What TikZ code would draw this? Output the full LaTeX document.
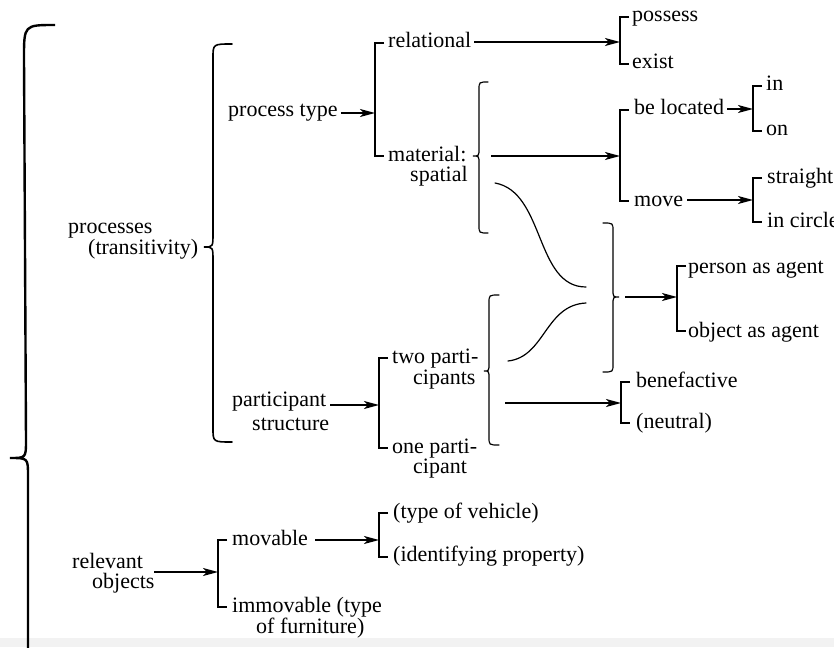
\documentclass[tikz,border=0pt]{standalone}
\usepackage{fontspec}
\setmainfont{Liberation Serif}
\usetikzlibrary{arrows.meta}
\newcommand\brkt[3]{\draw[brk] ({#1+9},#2) -- (#1,#2) -- (#1,#3) -- ({#1+9},#3);}
\newcommand\leftbr[7]{\draw[brc] (#1,#4) .. controls (#2,#4) .. (#2,{#4+#7}) -- (#2,{#5-#7}) .. controls (#2,#5) .. (#3,#5) .. controls (#2,#5) .. (#2,{#5+#7}) -- (#2,{#6-#7}) .. controls (#2,#6) .. (#1,#6);}
\begin{document}
\begin{tikzpicture}[x=1pt,y=-1pt,
  txt/.style={inner sep=0pt, anchor=base west, font=\fontsize{22}{22}\selectfont},
  arr/.style={line width=1.2pt, -{Stealth[length=15pt,width=8pt,inset=4pt]}},
  brk/.style={line width=1.2pt},
  brc/.style={line width=1.2pt, line cap=round}]
\useasboundingbox (0,0) rectangle (834,647);
\fill[black!5] (0,638) rectangle (834,647);

% outer brace
\draw[line width=2.4pt] (55,25) .. controls (24,25) .. (24,58) -- (26,440) .. controls (26,458) .. (10,458) .. controls (28,458) .. (28,476) -- (28,660);

% text nodes
\node[txt] (proc1) at (68,233) {processes};
\node[txt] (proc2) at (88,254) {(transitivity)};
\node[txt] (ptype) at (228,117) {process type};
\node[txt] (rel) at (388,48) {relational};
\node[txt] (poss) at (632,22) {possess};
\node[txt] (exist) at (632,69) {exist};
\node[txt] (mat1) at (388,161) {material:};
\node[txt] (mat2) at (410,181) {spatial};
\node[txt] (beloc) at (634,115) {be located};
\node[txt] (in) at (766,91) {in};
\node[txt] (on) at (766,136) {on};
\node[txt] (move) at (634,206) {move};
\node[txt] (str) at (767,183) {straight};
\node[txt] (circ) at (767,227) {in circle};
\node[txt] (pers) at (688,273) {person as agent};
\node[txt] (obj) at (688,337) {object as agent};
\node[txt] (part1) at (232,406) {participant};
\node[txt] (part2) at (252,430) {structure};
\node[txt] (two1) at (392,363) {two parti-};
\node[txt] (two2) at (413,384) {cipants};
\node[txt] (one1) at (392,453) {one parti-};
\node[txt] (one2) at (413,473) {cipant};
\node[txt] (bene) at (636,387) {benefactive};
\node[txt] (neut) at (636,428) {(neutral)};
\node[txt] (relv1) at (72,568) {relevant};
\node[txt] (relv2) at (92,588) {objects};
\node[txt] (mov) at (232,545) {movable};
\node[txt] (veh) at (393,518) {(type of vehicle)};
\node[txt] (ident) at (393,561) {(identifying property)};
\node[txt] (imm1) at (232,612) {immovable (type};
\node[txt] (imm2) at (256,633) {of furniture)};

% braces
\begin{scope}[brc/.append style={line width=1.6pt}]
\leftbr{232}{213}{204}{44}{247}{442}{14}
\end{scope}
\leftbr{488}{479}{473}{82}{156}{233}{8}
\leftbr{499}{489}{484}{295}{371}{445}{8}
\leftbr{603}{613}{619}{223}{297}{372}{8}

% brackets
\brkt{375}{43}{156}
\brkt{620}{17}{64}
\brkt{620}{110}{201}
\brkt{753}{86}{131}
\brkt{753}{178}{222}
\brkt{677}{266}{331}
\brkt{379}{358}{448}
\brkt{621}{382}{423}
\brkt{218}{540}{607}
\brkt{379}{513}{557}

% coordinates
\coordinate (a1) at (375,113);
\coordinate (a2) at (620,42);
\coordinate (mtip) at (473,156);
\coordinate (a3) at (620,156);
\coordinate (a4) at (753,109);
\coordinate (a5) at (753,200);
\coordinate (rtip) at (619,297);
\coordinate (a6) at (677,297);
\coordinate (ptip) at (485,371);
\coordinate (a7) at (621,403);
\coordinate (a8) at (379,405);
\coordinate (a9) at (218,572);
\coordinate (a10) at (379,540);

% arrows
\draw[arr] ([xshift=3pt]ptype.east |- a1) -- (a1);
\draw[arr] ([xshift=3pt]rel.east |- a2) -- (a2);
\draw[arr] ([xshift=18pt]mtip) -- (a3);
\draw[arr] ([xshift=3pt]beloc.east |- a4) -- (a4);
\draw[arr] ([xshift=4pt]move.east |- a5) -- (a5);
\draw[arr] ([xshift=6pt]rtip) -- (a6);
\draw[arr] ([xshift=20pt]ptip |- a7) -- (a7);
\draw[arr] ([xshift=4pt]part1.east |- a8) -- (a8);
\draw[arr] ([xshift=11pt]relv1.east |- a9) -- (a9);
\draw[arr] ([xshift=7pt]mov.east |- a10) -- (a10);

% S-curves
\coordinate (s1a) at (495,183);
\coordinate (s1b) at (586,287);
\coordinate (s2a) at (508,361);
\coordinate (s2b) at (586,303);
\draw[brc] (s1a) .. controls (545,192) and (535,287) .. (s1b);
\draw[brc] (s2a) .. controls (545,357) and (545,305) .. (s2b);
\end{tikzpicture}
\end{document}
